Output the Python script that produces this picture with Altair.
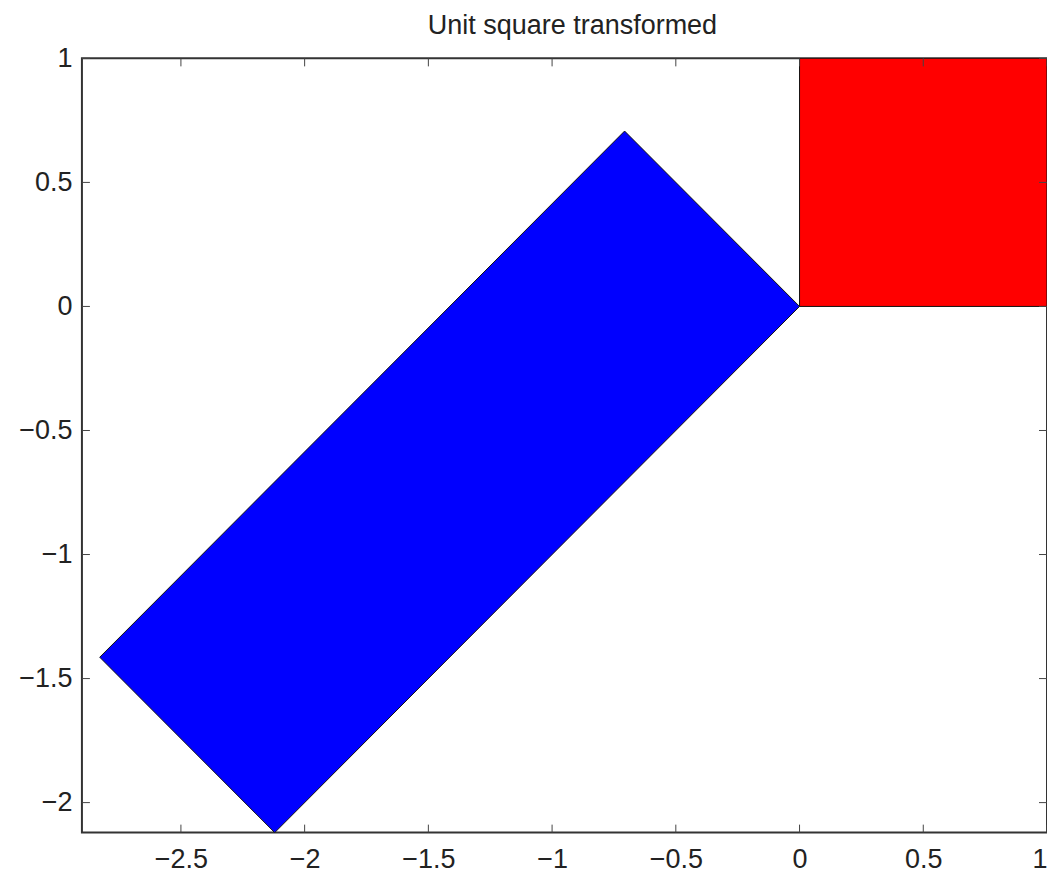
import altair as alt
import pandas as pd

# Vertices (closed polygons)
blue_x = [0.0, -0.707, -2.828, -2.121, 0.0]
blue_y = [0.0, 0.707, -1.414, -2.121, 0.0]
red_x = [0.0, 1.0, 1.0, 0.0, 0.0]
red_y = [0.0, 0.0, 1.0, 1.0, 0.0]

x_ticks = [-2.5, -2, -1.5, -1, -0.5, 0, 0.5, 1]
y_ticks = [-2, -1.5, -1, -0.5, 0, 0.5, 1]

x_domain = [-2.9, 1.0]
y_domain = [-2.121, 1.0]

W, H = 966, 775
TL = 8

rows = []
for i, (x, y) in enumerate(zip(blue_x, blue_y)):
    rows.append({"shape": "blue", "idx": i, "x": x, "y": y})
for i, (x, y) in enumerate(zip(red_x, red_y)):
    rows.append({"shape": "red", "idx": i, "x": x, "y": y})
poly = pd.DataFrame(rows)

xt = pd.DataFrame({"t": x_ticks})
yt = pd.DataFrame({"t": y_ticks})

xs = alt.Scale(domain=x_domain, nice=False, zero=False)
ys = alt.Scale(domain=y_domain, nice=False, zero=False)

font = "Liberation Sans"
FS = 27

xaxis = alt.Axis(values=x_ticks, ticks=False, domain=False, grid=False, labelFontSize=FS,
                 labelFont=font, labelColor="#222", labelPadding=14, title=None, format="~g")
yaxis = alt.Axis(values=y_ticks, ticks=False, domain=False, grid=False, labelFontSize=FS,
                 labelFont=font, labelColor="#222", labelPadding=10, title=None, format="~g")

base = alt.Chart(poly)

blue = base.transform_filter(alt.datum.shape == "blue").mark_line(
    fill="#0000ff", stroke="#111", strokeWidth=1, clip=True
).encode(
    x=alt.X("x:Q", scale=xs, axis=xaxis),
    y=alt.Y("y:Q", scale=ys, axis=yaxis),
    order="idx:Q",
)
red = base.transform_filter(alt.datum.shape == "red").mark_line(
    fill="#ff0000", stroke="#111", strokeWidth=1, clip=True
).encode(
    x=alt.X("x:Q", scale=xs),
    y=alt.Y("y:Q", scale=ys),
    order="idx:Q",
)

tick_color = "#444"
xb = alt.Chart(xt).mark_rule(color=tick_color, strokeWidth=1).encode(
    x=alt.X("t:Q", scale=xs), y=alt.value(H), y2=alt.value(H - TL))
xtop = alt.Chart(xt).mark_rule(color=tick_color, strokeWidth=1).encode(
    x=alt.X("t:Q", scale=xs), y=alt.value(0), y2=alt.value(TL))
yl = alt.Chart(yt).mark_rule(color=tick_color, strokeWidth=1).encode(
    y=alt.Y("t:Q", scale=ys), x=alt.value(0), x2=alt.value(TL))
yr = alt.Chart(yt).mark_rule(color=tick_color, strokeWidth=1).encode(
    y=alt.Y("t:Q", scale=ys), x=alt.value(W), x2=alt.value(W - TL))

chart = alt.layer(blue, red, xb, xtop, yl, yr).properties(
    width=W, height=H,
    background="white",
    title=alt.TitleParams("Unit square transformed", fontSize=FS, font=font,
                          fontWeight="normal", color="#222", offset=4, dx=8,
                          anchor="middle"),
    autosize=alt.AutoSizeParams(type="none"),
    padding={"left": 74, "top": 50, "right": 0, "bottom": 40},
).configure_view(stroke="#333", strokeWidth=2)

chart.save("out.html", embed_options={"renderer": "svg", "actions": False})
